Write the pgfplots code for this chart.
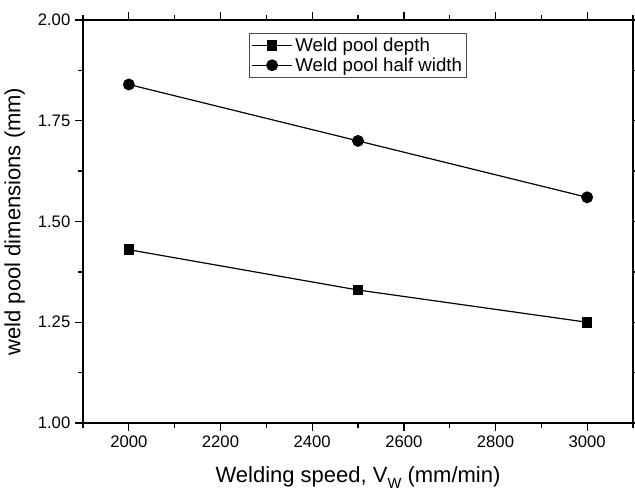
\documentclass[border=0pt]{standalone}
\usepackage{pgfplots}
\pgfplotsset{compat=1.18}
\usepackage{fontspec}
\setmainfont{Liberation Sans}
\begin{document}
\begin{tikzpicture}
\begin{axis}[
  scale only axis,
  at={(0,0)}, anchor=south west,
  width=412.5pt, height=302.25pt,
  xmin=1900, xmax=3100, ymin=1.0, ymax=2.0,
  xtick={2000,2200,2400,2600,2800,3000},
  ytick={1.0,1.25,1.5,1.75,2.0},
  minor xtick={1900,2100,2300,2500,2700,2900,3100},
  minor ytick={1.125,1.375,1.625,1.875},
  tick align=outside,
  major tick length=6pt, minor tick length=3.5pt,
  every tick/.style={black, line width=1pt},
  axis line style={line width=1pt},
  yticklabel style={/pgf/number format/.cd, fixed, fixed zerofill, precision=2},
  xticklabel style={/pgf/number format/.cd, set thousands separator={}},
  /pgf/number format/assume math mode=true,
  tick label style={font=\fontsize{12.5pt}{15pt}\selectfont},
  label style={font=\fontsize{16.5pt}{20pt}\selectfont},
  xlabel={Welding speed, V\raisebox{-0.5ex}{\fontsize{11pt}{11pt}\selectfont W} (mm/min)},
  ylabel={weld pool dimensions (mm)},
  xlabel style={at={(axis description cs:0.5,-0.136)}, anchor=center},
  ylabel style={at={(axis description cs:-0.124,0.5)}, anchor=center},
  legend style={at={(rel axis cs:0.302,0.968)}, anchor=north west,
    font=\fontsize{14pt}{16pt}\selectfont, draw=black!70, line width=0.6pt,
    inner sep=1.5pt, row sep=-1pt},
  legend cell align=left,
  legend image code/.code={\draw[mark repeat=2,mark phase=2,#1] plot coordinates {(0pt,0pt) (15pt,0pt) (30pt,0pt)};},
]
\addplot[black, line width=0.9pt, mark=square*, mark size=3.5pt] coordinates {(2000,1.43) (2500,1.33) (3000,1.25)};
\addlegendentry{Weld pool depth}
\addplot[black, line width=0.9pt, mark=*, mark size=4pt] coordinates {(2000,1.84) (2500,1.70) (3000,1.56)};
\addlegendentry{Weld pool half width}
\end{axis}
\pgfresetboundingbox
\useasboundingbox (-62.25pt,-50.25pt) rectangle (414pt,317.25pt);
\end{tikzpicture}
\end{document}
